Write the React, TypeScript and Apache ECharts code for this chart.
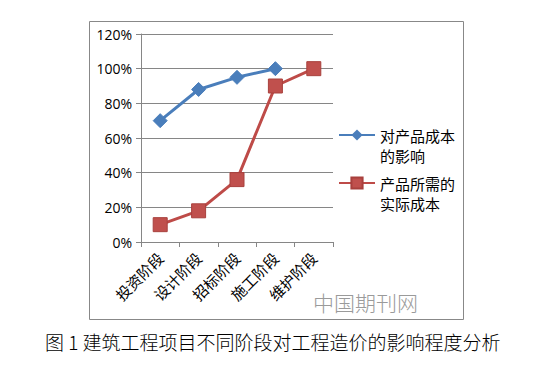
import React, { useEffect, useRef } from "react";
import * as echarts from "echarts";

const categories = ["投资阶段", "设计阶段", "招标阶段", "施工阶段", "维护阶段"];
const seriesNames = ["对产品成本\n的影响", "产品所需的\n实际成本"];
const influenceValues: (number | null)[] = [0.7, 0.88, 0.95, 1.0, null];
const actualCostValues = [0.1, 0.18, 0.36, 0.9, 1.0];
const caption = "图 1 建筑工程项目不同阶段对工程造价的影响程度分析";
const watermark = "中国期刊网";

const CJK = '"Noto Sans CJK SC", "Noto Sans", sans-serif';

export default function App() {
  const ref = useRef<HTMLDivElement>(null);
  useEffect(() => {
    if (!ref.current) return;
    const chart = echarts.init(ref.current, null, { renderer: "svg" });
    chart.setOption({
      animation: false,
      backgroundColor: "#ffffff",
      grid: { left: 141, right: 207, top: 34, bottom: 123, containLabel: false },
      xAxis: {
        type: "category",
        data: categories,
        boundaryGap: true,
        axisLine: { lineStyle: { color: "#868686", width: 1 } },
        axisTick: { show: true, length: 5, lineStyle: { color: "#868686" } },
        axisLabel: {
          rotate: 45,
          interval: 0,
          margin: 13,
          color: "#000",
          fontSize: 15,
          fontFamily: CJK,
        },
      },
      yAxis: {
        type: "value",
        min: 0,
        max: 1.2,
        interval: 0.2,
        axisLine: { show: true, lineStyle: { color: "#868686", width: 1 } },
        axisTick: { show: true, length: 5, lineStyle: { color: "#868686" } },
        splitLine: { lineStyle: { color: "#868686", width: 1 } },
        axisLabel: {
          formatter: (v: number) => Math.round(v * 100) + "%",
          color: "#000",
          fontSize: 14,
          margin: 9,
          fontFamily: '"Open Sans", "Noto Sans", sans-serif',
        },
      },
      legend: {
        orient: "vertical",
        left: 333,
        top: 100,
        itemWidth: 36,
        itemHeight: 14,
        itemGap: -12,
        formatter: (name: string) => "\n" + name,
        textStyle: {
          fontSize: 15,
          lineHeight: 20,
          color: "#000",
          fontFamily: CJK,
        },
        data: seriesNames,
      },
      series: [
        {
          name: seriesNames[0],
          type: "line",
          data: influenceValues,
          symbol: "diamond",
          symbolSize: 14,
          lineStyle: { color: "#4A7EBB", width: 3 },
          itemStyle: { color: "#4A7EBB", borderColor: "#4A7EBB" },
          connectNulls: false,
        },
        {
          name: seriesNames[1],
          type: "line",
          data: actualCostValues,
          symbol: "rect",
          symbolSize: 14,
          lineStyle: { color: "#BE4B48", width: 3 },
          itemStyle: { color: "#C0504D", borderColor: "#A8403D", borderWidth: 1 },
        },
      ],
      graphic: [
        {
          type: "rect",
          shape: { x: 89.5, y: 21.5, width: 374, height: 298 },
          style: { fill: "none", stroke: "#888888", lineWidth: 1 },
          silent: true,
        },
        {
          type: "text",
          x: 313,
          y: 291,
          style: {
            text: watermark,
            fontSize: 21,
            fill: "#9a9a9a",
            fontFamily: CJK,
            fontWeight: 300,
          },
          silent: true,
        },
        {
          type: "text",
          x: 45,
          y: 332,
          style: {
            text: caption,
            fontSize: 19,
            fill: "#000",
            fontFamily: CJK,
            fontWeight: 300,
          },
          silent: true,
        },
      ],
    });
    return () => chart.dispose();
  }, []);
  return (
    <div
      ref={ref}
      style={{ position: "fixed", left: 0, top: 0, width: 540, height: 365 }}
    />
  );
}
